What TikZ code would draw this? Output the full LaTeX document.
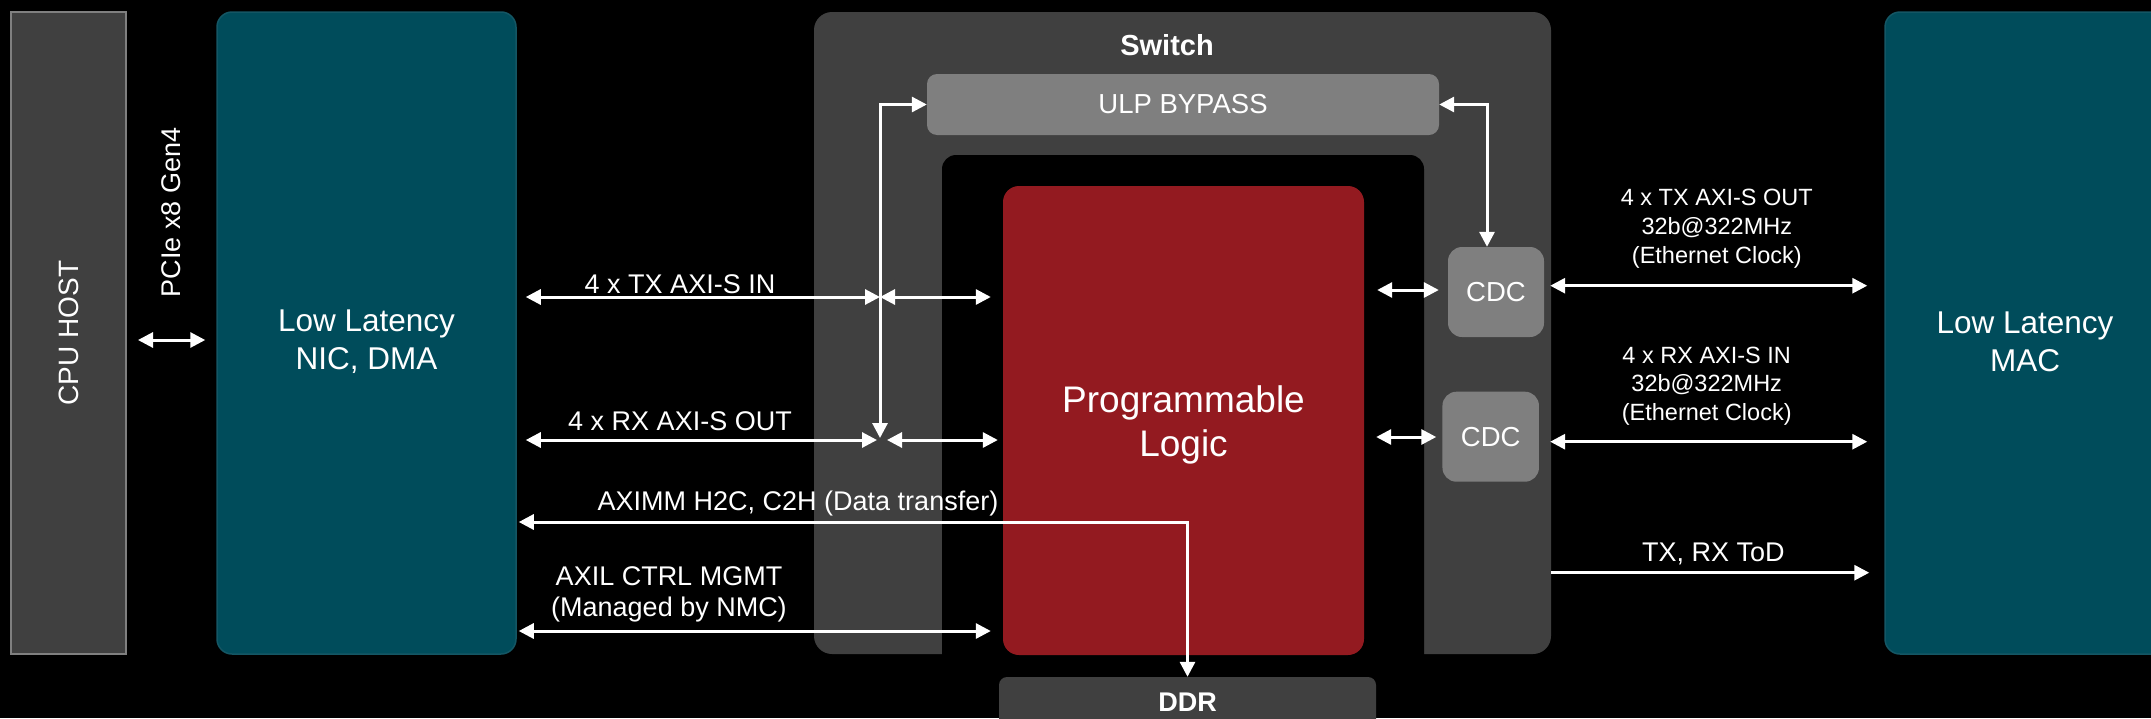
\documentclass[tikz,border=0pt]{standalone}
\usepackage{fontspec}
\setmainfont{Liberation Sans}
\usetikzlibrary{arrows.meta}
\definecolor{dgray}{RGB}{64,64,64}
\definecolor{mgray}{RGB}{127,127,127}
\definecolor{tealf}{RGB}{0,76,91}
\definecolor{tealb}{RGB}{20,86,100}
\definecolor{plred}{RGB}{147,26,32}
\definecolor{cpub}{RGB}{128,128,128}
\begin{document}
\begin{tikzpicture}[x=1pt,y=-1pt,
  box/.style={inner sep=0pt, text=white, align=center},
  tip/.style={},
  ar/.style={draw=white, line width=3pt, -{Triangle[length=15pt,width=15pt]}},
  dbl/.style={draw=white, line width=3pt, {Triangle[length=15pt,width=15pt]}-{Triangle[length=15pt,width=15pt]}},
  lbl/.style={text=white, anchor=base, inner sep=0pt, font=\fontsize{27}{32}\selectfont},
  rlbl/.style={text=white, anchor=base, inner sep=0pt, font=\fontsize{23.5}{28}\selectfont},
  big/.style={text=white, inner sep=0pt, align=center, font=\fontsize{31.5}{38}\selectfont}
]
\fill[black] (0,0) rectangle (2151,718);
\useasboundingbox (0,0) rectangle (2151,718);

% blocks
\node[box, fill=dgray, draw=cpub, line width=2pt, minimum width=115pt, minimum height=642pt] (cpu) at (68.5,333) {};
\node[box, rotate=90, font=\fontsize{28}{32}\selectfont] (cputxt) at (cpu.center) {CPU HOST};
\node[box, fill=tealf, draw=tealb, line width=1.5pt, rounded corners=15pt, minimum width=299pt, minimum height=642pt] (nic) at (366.5,333) {};
\node[big] (nictxt) at (366.5,342) {Low Latency\\NIC, DMA};
\node[box, fill=tealf, draw=tealb, line width=1.5pt, rounded corners=15pt, minimum width=300pt, minimum height=642pt] (mac) at (2035,333) {};
\node[big] (mactxt) at (2025,342) {Low Latency\\MAC};

\node[box, fill=dgray, rounded corners=18pt, minimum width=737pt, minimum height=642pt] (sw) at (1182.5,333) {};
\node[text=white, anchor=base, inner sep=0pt, font=\fontsize{29}{32}\selectfont\bfseries] (swtxt) at (1167,55) {Switch};
\node[box, fill=black, rounded corners=14pt, minimum width=482pt, minimum height=525pt] (notch) at (1183,417.5) {};
\node[box, fill=mgray, rounded corners=10pt, minimum width=512pt, minimum height=61pt, font=\fontsize{27.5}{32}\selectfont] (ulp) at (1183,104.5) {ULP BYPASS};
\node[box, fill=plred, rounded corners=16pt, minimum width=361pt, minimum height=469pt] (pl) at (1183.5,420.5) {};
\node[box, font=\fontsize{37}{44}\selectfont] (pltxt) at (1183.5,425) {Programmable\\Logic};
\node[box, fill=dgray, rounded corners=8pt, minimum width=377pt, minimum height=50pt, font=\fontsize{27}{32}\selectfont\bfseries] (ddr) at (1187.5,702) {DDR};
\node[box, fill=mgray, rounded corners=14pt, minimum width=96pt, minimum height=90pt, font=\fontsize{27.5}{32}\selectfont] (cdc1) at (1496,292) {CDC};
\node[box, fill=mgray, rounded corners=14pt, minimum width=96.5pt, minimum height=90pt, font=\fontsize{27.5}{32}\selectfont] (cdc2) at (1490.7,436.7) {CDC};

% helper levels
\coordinate (pcy) at (0,340);
\coordinate (txy) at (0,297);
\coordinate (rxy) at (0,440);
\coordinate (axy) at (0,522);
\coordinate (aly) at (0,631);
\coordinate (c1l) at (0,290);
\coordinate (c1r) at (0,285.7);
\coordinate (c2l) at (0,437);
\coordinate (c2r) at (0,441.7);
\coordinate (tody) at (0,572.7);
\coordinate (vx) at (880,0);
\coordinate (vxb) at (1487,0);

% connectors
\draw[dbl, shorten <=11pt, shorten >=11pt] (cpu.east |- pcy) -- (nic.west |- pcy);
\draw[dbl, shorten <=9pt] (nic.east |- txy) -- (vx |- txy);
\draw[dbl, shorten >=12pt] (vx |- txy) -- (pl.west |- txy);
\draw[dbl, shorten <=9pt, shorten >=3pt] (nic.east |- rxy) -- (vx |- rxy);
\draw[dbl, shorten <=7pt, shorten >=5pt] (vx |- rxy) -- (pl.west |- rxy);
\draw[dbl, shorten <=2pt] (vx |- rxy) |- (ulp.west);
\draw[dbl, shorten <=2pt] (nic.east |- axy) -| (ddr.north);
\draw[dbl, shorten <=2pt, shorten >=12pt] (nic.east |- aly) -- (pl.west |- aly);
\draw[dbl] (ulp.east) -| (vxb |- cdc1.north);
\draw[dbl, shorten <=13pt, shorten >=9pt] (pl.east |- c1l) -- (cdc1.west |- c1l);
\draw[dbl, shorten <=6pt, shorten >=17pt] (cdc1.east |- c1r) -- (mac.west |- c1r);
\draw[dbl, shorten <=12pt, shorten >=6pt] (pl.east |- c2l) -- (cdc2.west |- c2l);
\draw[dbl, shorten <=11pt, shorten >=17pt] (cdc2.east |- c2r) -- (mac.west |- c2r);
\draw[ar, shorten >=15pt] (sw.east |- tody) -- (mac.west |- tody);

% labels
\node[box, rotate=90, font=\fontsize{27}{32}\selectfont] (pcie) at (171.5,212.6) {PCIe x8 Gen4};
\node[lbl] (ltx) at (680,293) {4 x TX AXI-S IN};
\node[lbl] (lrx) at (680,430) {4 x RX AXI-S OUT};
\node[lbl] (lax) at (798,510) {AXIMM H2C, C2H (Data transfer)};
\node[lbl] (lal1) at (669,585) {AXIL CTRL MGMT};
\node[lbl] (lal2) at (669,616.7) {(Managed by NMC)};
\node[rlbl] (rt1) at (1716.8,205) {4 x TX AXI-S OUT};
\node[rlbl] (rt2) at (1716.8,234) {32b@322MHz};
\node[rlbl] (rt3) at (1716.8,263.3) {(Ethernet Clock)};
\node[rlbl] (rr1) at (1706.7,363.3) {4 x RX AXI-S IN};
\node[rlbl] (rr2) at (1706.7,391) {32b@322MHz};
\node[rlbl] (rr3) at (1706.7,420.7) {(Ethernet Clock)};
\node[lbl] (tod) at (1713.3,561.7) {TX, RX ToD};
\end{tikzpicture}
\end{document}
